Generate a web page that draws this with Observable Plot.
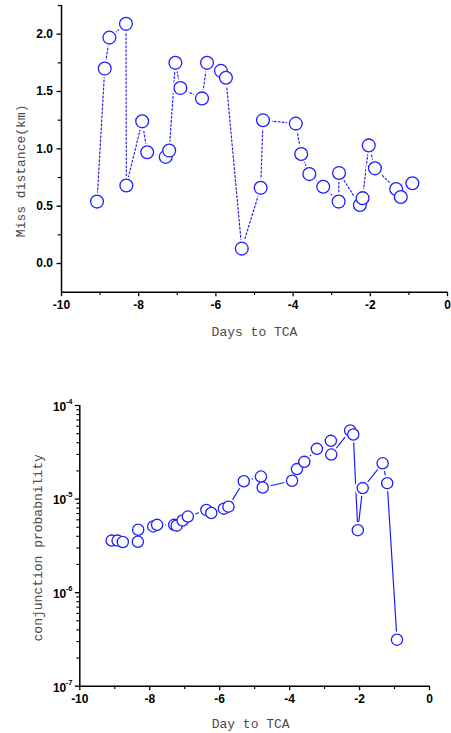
<!DOCTYPE html>
<html>
<head>
<meta charset="utf-8">
<script src="https://cdn.jsdelivr.net/npm/d3@7"></script>
<script src="https://cdn.jsdelivr.net/npm/@observablehq/plot@0.6"></script>
<style>
  html, body { margin: 0; padding: 0; background: white; }
  #topChart, #bottomChart { width: 451px; }
  svg { display: block; }
</style>
</head>
<body>
<div id="topChart"></div>
<div id="bottomChart"></div>
<script>
// ---- Top chart: miss distance ----
const days1 = [-9.08, -8.88, -8.76, -8.33, -8.32, -7.91, -7.78, -7.30, -7.21, -7.05, -6.92, -6.36, -6.23, -5.87, -5.74, -5.33, -4.84, -4.78, -3.93, -3.79, -3.58, -3.22, -2.82, -2.81, -2.27, -2.20, -2.04, -1.88, -1.33, -1.21, -0.91];
const missKm = [0.54, 1.70, 1.97, 2.09, 0.68, 1.24, 0.97, 0.93, 0.985, 1.75, 1.53, 1.44, 1.75, 1.68, 1.62, 0.13, 0.66, 1.25, 1.22, 0.955, 0.78, 0.67, 0.54, 0.79, 0.51, 0.57, 1.03, 0.83, 0.65, 0.58, 0.70];

// ---- Bottom chart: conjunction probability ----
const days2 = [-9.09, -8.92, -8.77, -8.34, -8.33, -7.90, -7.79, -7.30, -7.23, -7.06, -6.91, -6.38, -6.24, -5.88, -5.75, -5.31, -4.82, -4.77, -3.93, -3.79, -3.58, -3.22, -2.82, -2.81, -2.27, -2.18, -2.05, -1.91, -1.34, -1.21, -0.93];
const probability = [3.6e-6, 3.6e-6, 3.48e-6, 3.5e-6, 4.7e-6, 5.1e-6, 5.3e-6, 5.3e-6, 5.2e-6, 5.9e-6, 6.5e-6, 7.65e-6, 7.1e-6, 7.9e-6, 8.3e-6, 1.55e-5, 1.74e-5, 1.33e-5, 1.57e-5, 2.09e-5, 2.5e-5, 3.44e-5, 4.19e-5, 2.99e-5, 5.4e-5, 4.9e-5, 4.65e-6, 1.31e-5, 2.41e-5, 1.48e-5, 3.14e-7];

// ---- Ticks & labels ----
const xMajorTicks = [-10, -8, -6, -4, -2, 0];
const xMinorTicks = [-9, -7, -5, -3, -1];
const yMajorTicks1 = [0.0, 0.5, 1.0, 1.5, 2.0];
const yMinorTicks1 = [0.25, 0.75, 1.25, 1.75, 2.25];
const decadeTicks = [1e-7, 1e-6, 1e-5, 1e-4];
const mantissas = [2, 3, 4, 5, 6, 7, 8, 9];
const xLabel1 = "Days to TCA";
const yLabel1 = "Miss distance(km)";
const xLabel2 = "Day to TCA";
const yLabel2 = "conjunction probabnility";

const BLUE = "#1e1eff";
const svgStyle = "font-family: 'Liberation Sans', Arial, sans-serif; font-size: 12px; font-weight: bold; color: black; background: white; overflow: visible;";
const labelText = {fontFamily: "'Liberation Mono', 'DejaVu Sans Mono', monospace", fontSize: 13, fontWeight: "normal", fill: "#4a4a4a", lineAnchor: "middle", textAnchor: "middle"};

const topPts = days1.map((d, i) => ({day: d, miss: missKm[i]}));
const botPts = days2.map((d, i) => ({day: d, pc: probability[i]}));
const minorLog = decadeTicks.slice(0, -1).flatMap(dec => mantissas.map(m => m * dec));

const chartTop = Plot.plot({
  width: 451, height: 360,
  marginLeft: 61, marginRight: 4, marginTop: 5, marginBottom: 68.3,
  x: {domain: [-10, 0]},
  y: {domain: [-0.25, 2.25]},
  style: svgStyle,
  marks: [
    Plot.axisX({ticks: xMajorTicks, tickSize: 4.5, tickPadding: 4, tickFormat: d => String(d), label: null, strokeWidth: 1.3}),
    Plot.axisX({ticks: xMinorTicks, tickSize: 3.3, tickFormat: () => "", label: null, strokeWidth: 1.2}),
    Plot.axisY({ticks: yMajorTicks1, tickSize: 4.5, tickPadding: 4, tickFormat: d => d.toFixed(1), label: null, strokeWidth: 1.3}),
    Plot.axisY({ticks: yMinorTicks1, tickSize: 3.3, tickFormat: () => "", label: null, strokeWidth: 1.2}),
    Plot.ruleX([-10], {strokeWidth: 1.5, stroke: "black"}),
    Plot.ruleY([-0.25], {strokeWidth: 1.5, stroke: "black"}),
    Plot.line(topPts, {x: "day", y: "miss", stroke: BLUE, strokeWidth: 1.2, strokeDasharray: "1.8,2.2"}),
    Plot.dot(topPts, {x: "day", y: "miss", r: 9, fill: "white", stroke: null}),
    Plot.dot(topPts, {x: "day", y: "miss", r: 6.4, fill: "white", stroke: BLUE, strokeWidth: 1.3}),
    Plot.text([xLabel1], {frameAnchor: "bottom", dy: 40, text: d => d, ...labelText}),
    Plot.text([yLabel1], {frameAnchor: "left", dx: -41, dy: 22, rotate: -90, text: d => d, ...labelText})
  ]
});
document.getElementById("topChart").append(chartTop);

const chartBottom = Plot.plot({
  width: 451, height: 373,
  marginLeft: 79.3, marginRight: 22, marginTop: 45, marginBottom: 47.3,
  x: {domain: [-10, 0]},
  y: {type: "log", domain: [1e-7, 1e-4]},
  style: svgStyle,
  marks: [
    Plot.axisX({ticks: xMajorTicks, tickSize: 4.5, tickPadding: 4, tickFormat: d => String(d), label: null, strokeWidth: 1.3}),
    Plot.axisX({ticks: xMinorTicks, tickSize: 3.3, tickFormat: () => "", label: null, strokeWidth: 1.2}),
    Plot.axisY({ticks: decadeTicks, tickSize: 4.5, tickFormat: () => "", label: null, strokeWidth: 1.3}),
    Plot.axisY({ticks: minorLog, tickSize: 3, tickFormat: () => "", label: null, strokeWidth: 1.1}),
    Plot.text(decadeTicks, {frameAnchor: "left", y: d => d, text: () => "10", textAnchor: "end", dx: -13.5, dy: 1.5, fontSize: 12, fontWeight: "bold"}),
    Plot.text(decadeTicks, {frameAnchor: "left", y: d => d, text: d => String(Math.round(Math.log10(d))), textAnchor: "start", dx: -14, dy: -4, fontSize: 7.5, fontWeight: "bold"}),
    Plot.ruleX([-10], {strokeWidth: 1.5, stroke: "black"}),
    Plot.ruleY([1e-7], {strokeWidth: 1.5, stroke: "black"}),
    Plot.line(botPts, {x: "day", y: "pc", stroke: BLUE, strokeWidth: 1.2}),
    Plot.dot(botPts, {x: "day", y: "pc", r: 8.2, fill: "white", stroke: null}),
    Plot.dot(botPts, {x: "day", y: "pc", r: 5.6, fill: "white", stroke: BLUE, strokeWidth: 1.3}),
    Plot.text([xLabel2], {frameAnchor: "bottom", dx: -4, dy: 37.5, text: d => d, ...labelText}),
    Plot.text([yLabel2], {frameAnchor: "left", dx: -41.5, dy: 2, rotate: -90, text: d => d, ...labelText})
  ]
});
document.getElementById("bottomChart").append(chartBottom);
</script>
</body>
</html>
